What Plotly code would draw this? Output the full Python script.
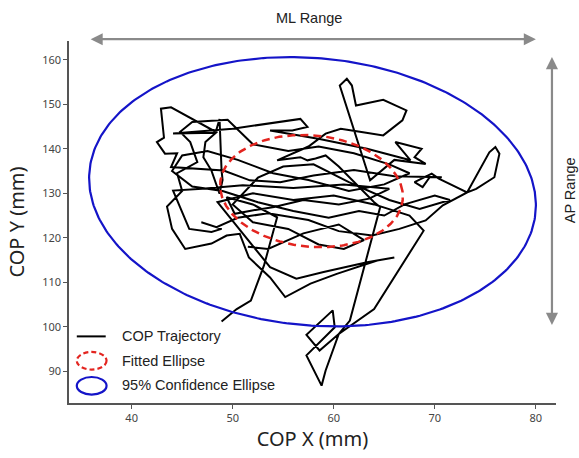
import numpy as np
import plotly.graph_objects as go

# ---------------- data ----------------
cop_x = [48.9, 50.4, 51.8, 53.1, 54.4, 52.0, 49.4, 50.2, 51.8, 54.1, 57.0, 60.5, 63.5, 65.5,
         61.0, 56.0, 51.0, 47.0, 44.1, 45.7, 47.9, 48.9, 46.9, 48.4, 50.5, 53.5, 57.5, 60.5, 63.8, 66.5,
         69.1, 70.8, 73.2, 75.4, 76.0, 76.4, 75.9, 74.6, 74.1, 73.2, 70.4, 69.7, 68.0, 68.8, 69.5, 70.7,
         66.0, 62.0, 58.0, 54.7, 51.7, 49.1, 46.4, 43.9, 44.5,
         43.3, 42.5, 43.2, 42.9, 43.9, 48.4, 47.3, 47.1, 47.9, 48.7, 49.0, 48.9, 48.7,
         48.3, 44.1, 50.0, 54.7, 56.7, 57.4, 55.9, 53.7, 58.6, 63.3, 67.6,
         66.1, 68.7, 68.0, 69.1, 66.0, 63.6,
         60.6, 61.3, 61.8, 62.2, 64.9, 67.2, 66.8, 64.9, 62.9, 60.7, 59.2, 57.5, 54.4, 56.7, 57.4, 58.2, 59.2, 60.5,
         64.0, 64.6, 61.6, 60.5, 59.2, 58.8, 57.3, 60.1, 59.9, 57.3, 58.6, 60.5, 64.0, 68.9,
         67.5, 64.0, 60.0, 56.0, 52.0, 48.5,
         53.7, 56.3, 59.0, 63.3, 66.0, 64.3, 60.3, 57.7, 55.2, 53.7, 51.6, 50.7, 49.4, 47.9,
         45.3, 44.0, 43.5, 45.0, 44.5, 46.5, 45.8, 44.8, 46.0, 49.5, 52.0, 55.5, 58.5, 62.0, 65.5, 67.5,
         65.0, 61.5, 57.5, 54.0, 50.5, 47.5, 45.0, 44.0, 46.0, 49.0, 52.5, 56.0, 59.5, 62.5, 65.0, 67.0,
         70.0, 71.5, 68.5, 65.5, 61.5, 58.0, 55.0, 52.5, 50.0, 52.0, 55.5, 58.5, 61.0, 63.0, 60.5, 57.0,
         53.5, 51.5]
cop_y = [101.2, 104.0, 105.9, 113.8, 124.6, 127.5, 129.1, 125.4, 126.1, 126.9, 128.5, 127.5, 128.8, 131.0,
         132.0, 131.2, 131.8, 131.0, 130.6, 122.0, 121.3, 122.0, 123.5, 122.4, 124.5, 125.5, 124.0, 121.5, 120.5, 122.0,
         123.9, 127.3, 130.2, 139.2, 140.4, 138.9, 133.6, 131.8, 131.0, 130.2, 133.3, 134.4, 132.5, 131.4, 133.6, 133.6,
         133.8, 135.2, 134.0, 132.5, 132.9, 135.1, 135.5, 135.9, 139.0,
         138.9, 141.5, 142.5, 149.0, 149.3, 143.7, 141.5, 138.1, 135.1, 129.9, 133.0, 135.1, 146.7,
         143.6, 143.4, 144.5, 146.0, 146.7, 144.9, 144.1, 144.1, 142.2, 140.0, 137.4,
         141.5, 140.0, 138.1, 136.6, 137.5, 132.9,
         154.2, 155.7, 154.2, 149.7, 151.0, 148.6, 146.4, 143.0, 143.7, 144.5, 143.4, 140.5, 137.4, 138.1, 137.4, 137.8, 138.5, 136.0,
         128.0, 126.9, 101.4, 98.4, 90.2, 86.8, 93.6, 99.9, 103.7, 98.2, 94.7, 98.4, 104.0, 121.6,
         125.0, 127.5, 129.5, 128.5, 130.0, 128.0,
         113.4, 110.8, 112.3, 114.5, 115.6, 114.9, 111.9, 109.7, 106.7, 111.1, 115.6, 120.9, 120.5, 118.7,
         117.5, 122.0, 127.0, 130.5, 134.5, 137.0, 141.5, 143.8, 146.0, 146.5, 141.0, 139.5, 140.5, 139.0, 136.5, 134.5,
         132.0, 130.5, 133.0, 134.5, 137.5, 139.5, 138.5, 135.0, 131.5, 130.5, 128.0, 126.0, 124.5, 126.0, 125.0, 127.5,
         129.5, 128.5, 126.5, 128.5, 132.5, 136.5, 136.0, 133.5, 127.5, 123.5, 122.0, 118.5, 117.5, 119.5, 123.0, 121.0,
         117.5, 118.0]

# ellipse parameters: x = cx + a*cos t + shear*sin t ; y = cy + b*sin t
ellipse_names = ["Fitted Ellipse", "95% Confidence Ellipse"]
ellipse_cx = [57.8, 57.9]
ellipse_cy = [130.5, 130.35]
ellipse_a = [9.0, 22.0]
ellipse_shear = [-0.9, -2.2]
ellipse_b = [12.6, 30.25]
ellipse_colors = ["#e3241f", "#1414c8"]
ellipse_dash = ["dash", "solid"]

x_ticks = [40, 50, 60, 70, 80]
y_ticks = [90, 100, 110, 120, 130, 140, 150, 160]

# ---------------- figure ----------------
W, H = 579, 458
ml, mr, mt, mb = 69, 23, 41, 55

fig = go.Figure()

fig.add_trace(go.Scatter(x=cop_x, y=cop_y, mode="lines", name="COP Trajectory",
                         line=dict(color="black", width=2), showlegend=False))

t = np.linspace(0, 2 * np.pi, 361)
ell_pts = []
for i in range(2):
    ex = ellipse_cx[i] + ellipse_a[i] * np.cos(t) + ellipse_shear[i] * np.sin(t)
    ey = ellipse_cy[i] + ellipse_b[i] * np.sin(t)
    ell_pts.append((ex, ey))
    fig.add_trace(go.Scatter(x=ex, y=ey, mode="lines", name=ellipse_names[i],
                             line=dict(color=ellipse_colors[i], width=2.5 if i == 0 else 2.2,
                                       dash="8px,5px" if ellipse_dash[i] == "dash" else "solid"),
                             showlegend=False))

bx, by = ell_pts[1]
xmin, xmax = float(bx.min()), float(bx.max())
ymin, ymax = float(by.min()), float(by.max())

arrow_col = "#8a8a8a"
ann = []
# ML range arrow
ann.append(dict(xref="x", yref="paper", x=xmax, y=1.005, axref="x", ax=xmin, ayref="pixel", ay=0,
                text="", showarrow=True, arrowhead=2, arrowside="end+start", arrowsize=1.1,
                arrowwidth=2.2, arrowcolor=arrow_col, standoff=0, startstandoff=0))
# AP range arrow
ann.append(dict(xref="x", yref="y", x=81.6, y=ymax, axref="pixel", ax=0, ayref="y", ay=ymin,
                text="", showarrow=True, arrowhead=2, arrowside="end+start", arrowsize=1.1,
                arrowwidth=2.2, arrowcolor=arrow_col, standoff=0, startstandoff=0))
lab_font = dict(family="Liberation Sans, Arial, sans-serif", size=14.5, color="#222")
ann.append(dict(xref="paper", yref="paper", x=0.4925, y=1.063, text="ML Range", showarrow=False,
                font=lab_font, xanchor="center", yanchor="middle"))
ann.append(dict(xref="paper", yref="paper", x=1.029, y=0.588, text="AP Range", showarrow=False,
                font=lab_font, textangle=-90, xanchor="center", yanchor="middle"))

# custom legend
leg_items = ["COP Trajectory", "Fitted Ellipse", "95% Confidence Ellipse"]
leg_y = [0.184, 0.115, 0.049]
for txt, yy in zip(leg_items, leg_y):
    ann.append(dict(xref="paper", yref="paper", x=0.104, y=yy, text=txt, showarrow=False,
                    font=dict(family="Liberation Sans, Arial, sans-serif", size=14.5, color="#222"),
                    xanchor="left", yanchor="middle"))

shapes = [
    dict(type="line", xref="paper", yref="paper", x0=0.016, x1=0.0754, y0=leg_y[0], y1=leg_y[0],
         line=dict(color="black", width=2)),
    dict(type="circle", xref="paper", yref="paper", x0=0.016, x1=0.0771, y0=0.0923, y1=0.141,
         line=dict(color=ellipse_colors[0], width=2.2, dash="5px,3px")),
    dict(type="circle", xref="paper", yref="paper", x0=0.016, x1=0.0771, y0=0.0232, y1=0.0718,
         line=dict(color=ellipse_colors[1], width=2.2)),
]

axis_common = dict(showline=True, linecolor="#555", linewidth=1.5, ticks="outside", ticklen=4,
                   tickcolor="#555", tickwidth=1.2, showgrid=False, zeroline=False, mirror=False,
                   automargin=False,
                   tickfont=dict(family="Noto Sans, Open Sans, sans-serif", size=11, color="#444"))

fig.update_layout(
    width=W, height=H, autosize=False,
    margin=dict(l=ml, r=mr, t=mt, b=mb),
    paper_bgcolor="white", plot_bgcolor="white",
    showlegend=False,
    xaxis=dict(range=[33.8, 82.0], tickvals=x_ticks, ticktext=[str(v) for v in x_ticks],
               title=dict(text="COP X (mm)", font=dict(family="Noto Sans, Open Sans, sans-serif", size=20, color="#222"),
                          standoff=8),
               **axis_common),
    yaxis=dict(range=[82.9, 164.2], tickvals=y_ticks, ticktext=[str(v) for v in y_ticks],
               title=dict(text="COP Y (mm)", font=dict(family="Noto Sans, Open Sans, sans-serif", size=20, color="#222"),
                          standoff=12),
               **axis_common),
    annotations=ann,
    shapes=shapes,
)

fig.write_html("out.html", config={"displayModeBar": False},
               post_script="document.body.style.margin='0';document.body.style.overflow='hidden';")
